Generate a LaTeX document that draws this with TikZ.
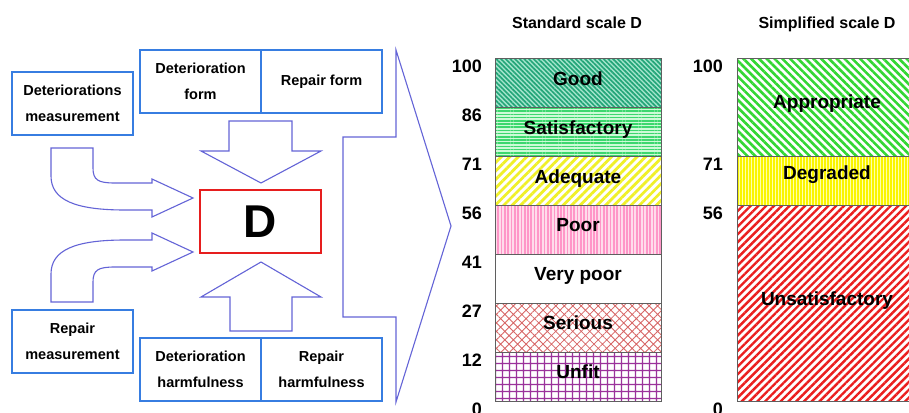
\documentclass[tikz,border=0pt]{standalone}
\usepackage{fontspec}
\setmainfont{Liberation Sans}
\usetikzlibrary{patterns.meta}

\definecolor{boxblue}{RGB}{55,125,225}
\definecolor{arrowblue}{RGB}{100,100,215}
\definecolor{dred}{RGB}{230,30,30}
\definecolor{edgegray}{RGB}{95,95,95}
% scale fills: background and stripe colours
\definecolor{goodbg}{RGB}{165,230,205}
\definecolor{goodln}{RGB}{35,165,120}
\definecolor{satbg}{RGB}{205,250,215}
\definecolor{satln}{RGB}{60,215,110}
\definecolor{adqln}{RGB}{240,240,40}
\definecolor{poorbg}{RGB}{255,220,235}
\definecolor{poorln}{RGB}{255,150,200}
\definecolor{serln}{RGB}{215,100,100}
\definecolor{unfln}{RGB}{155,50,155}
\definecolor{appln}{RGB}{50,215,50}
\definecolor{degbg}{RGB}{255,255,170}
\definecolor{degln}{RGB}{250,245,0}
\definecolor{unsln}{RGB}{235,30,30}

\tikzset{
  infobox/.style={draw=boxblue, line width=1.8pt, fill=white, inner sep=0pt,
    minimum width=121pt, minimum height=63pt, align=center,
    font=\fontsize{14.5}{25.5}\selectfont\bfseries},
  blockarrow/.style={draw=arrowblue, line width=1.1pt, fill=white, line join=miter},
  band/.style={draw=edgegray, line width=0.8pt},
  bandlabel/.style={anchor=base, inner sep=0pt, font=\fontsize{19}{22}\selectfont\bfseries},
  tick/.style={anchor=base east, inner sep=0pt, font=\fontsize{18}{20}\selectfont\bfseries},
  scaletitle/.style={anchor=base, inner sep=0pt, font=\fontsize{16}{18}\selectfont\bfseries}
}

\begin{document}
\begin{tikzpicture}[x=1pt,y=-1pt]
\useasboundingbox (0,0) rectangle (909,412);
\fill[white] (0,0) rectangle (909,412);

% ---------- left part: inputs of the indicator D ----------
\node[infobox] (detmeas) at (72.5,103.5) {Deteriorations\\measurement};
\node[infobox] (repmeas) at (72.5,341.5) {Repair\\measurement};
\node[infobox] (detform) at (200.5,81.5) {Deterioration\\form};
\node[infobox] (repform) at (321.5,81.5) {Repair form};
\node[infobox] (detharm) at (200.5,369.5) {Deterioration\\harmfulness};
\node[infobox] (repharm) at (321.5,369.5) {Repair\\harmfulness};

\node[draw=dred, line width=1.5pt, minimum width=121pt, minimum height=63pt,
      inner sep=0pt, font=\fontsize{46}{50}\selectfont\bfseries] (dnode) at (260.5,221.5) {D};

% block arrow from the form boxes down to D
\draw[blockarrow] (229,121) -- (292,121) -- (292,151) -- (321,151) -- (261,183)
  -- (201,151) -- (229,151) -- cycle;
% block arrow from the harmfulness boxes up to D
\draw[blockarrow] (230,331) -- (292,331) -- (292,297) -- (321,297) -- (261,262)
  -- (201,297) -- (230,297) -- cycle;
% bent arrow from deteriorations measurement to D
\draw[blockarrow] (51,148) -- (93,148) -- (93,168)
  .. controls (93,180) and (98,183) .. (115,183) -- (152,183) -- (152,179)
  -- (193,198) -- (152,217) -- (152,210) -- (125,210)
  .. controls (75,210) and (51,200) .. (51,176) -- cycle;
% bent arrow from repair measurement to D
\draw[blockarrow] (51,302) -- (93,302) -- (93,282)
  .. controls (93,270) and (98,267) .. (115,267) -- (152,267) -- (152,271)
  -- (193,252) -- (152,233) -- (152,240) -- (125,240)
  .. controls (75,240) and (51,250) .. (51,274) -- cycle;

% large arrow pointing to the scales
\draw[blockarrow] (343,137) -- (396,137) -- (396,50) -- (451,226) -- (396,402)
  -- (396,317) -- (343,317) -- cycle;

% ---------- standard scale ----------
\node[scaletitle] (stdtitle) at (577,29) {Standard scale D};

\path[band, preaction={fill=goodbg}, pattern={Lines[angle=-45,distance=3.3pt,line width=1.7pt]},
  pattern color=goodln] (495,58) rectangle (661,107);
\path[band, preaction={fill=satbg}, pattern={Lines[angle=0,distance=3.2pt,line width=1.5pt]},
  pattern color=satln] (495,107) rectangle (661,156);
\path[band, preaction={fill=white}, pattern={Lines[angle=45,distance=6pt,line width=2.8pt]},
  pattern color=adqln] (495,156) rectangle (661,205);
\path[band, preaction={fill=poorbg}, pattern={Lines[angle=90,distance=3.3pt,line width=1.7pt]},
  pattern color=poorln] (495,205) rectangle (661,254);
\path[band, fill=white] (495,254) rectangle (661,303);
\path[band, preaction={fill=white}, pattern={Hatch[angle=45,distance=6pt,line width=0.8pt]},
  pattern color=serln] (495,303) rectangle (661,352);
\path[band, preaction={fill=white}, pattern={Hatch[angle=0,distance=7.4pt,line width=1.4pt]},
  pattern color=unfln] (495,352) rectangle (661,401);

\node[bandlabel] (lgood) at (578,85) {Good};
\node[bandlabel] (lsat) at (578,134) {Satisfactory};
\node[bandlabel] (ladq) at (578,183) {Adequate};
\node[bandlabel] (lpoor) at (578,231) {Poor};
\node[bandlabel] (lvpoor) at (578,280) {Very poor};
\node[bandlabel] (lser) at (578,329) {Serious};
\node[bandlabel] (lunf) at (578,378) {Unfit};

\node[tick] (s100) at (482,72.5) {100};
\node[tick] (s86) at (482,121.5) {86};
\node[tick] (s71) at (482,170.5) {71};
\node[tick] (s56) at (482,219.5) {56};
\node[tick] (s41) at (482,268.5) {41};
\node[tick] (s27) at (482,317.5) {27};
\node[tick] (s12) at (482,366.5) {12};
\node[tick] (s0) at (482,415.5) {0};

% ---------- simplified scale ----------
\node[scaletitle] (simtitle) at (827,29) {Simplified scale D};

\path[band, preaction={fill=white}, pattern={Lines[angle=-45,distance=5.5pt,line width=2.6pt]},
  pattern color=appln] (737,58) rectangle (916,156);
\path[band, preaction={fill=degbg}, pattern={Lines[angle=90,distance=3pt,line width=1.6pt]},
  pattern color=degln] (737,156) rectangle (916,205);
\path[band, preaction={fill=white}, pattern={Lines[angle=45,distance=5.5pt,line width=2.4pt]},
  pattern color=unsln] (737,205) rectangle (916,401);

\node[bandlabel] (lapp) at (827,108) {Appropriate};
\node[bandlabel] (ldeg) at (827,179) {Degraded};
\node[bandlabel] (luns) at (827,305) {Unsatisfactory};

\node[tick] (t100) at (723,72.5) {100};
\node[tick] (t71) at (723,170.5) {71};
\node[tick] (t56) at (723,219.5) {56};
\node[tick] (t0) at (723,415.5) {0};
\end{tikzpicture}
\end{document}
